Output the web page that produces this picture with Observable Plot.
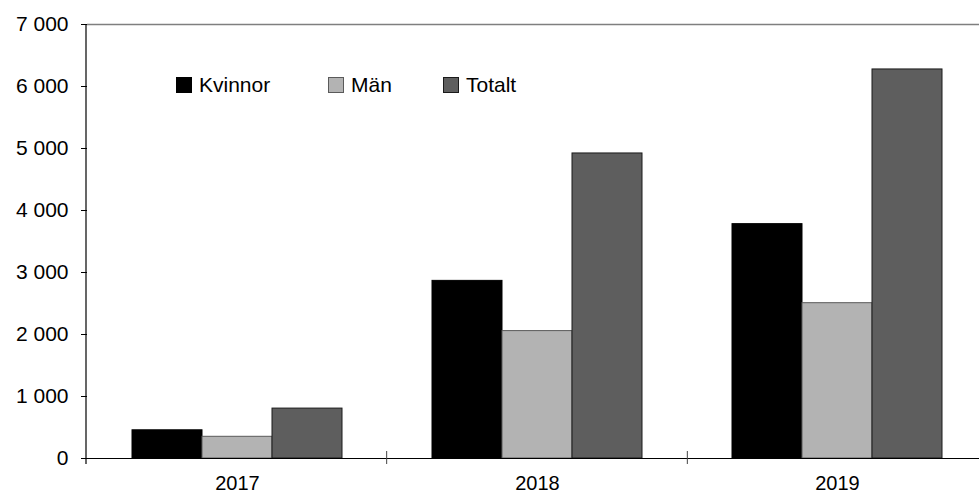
<!DOCTYPE html>
<html>
<head>
<meta charset="utf-8">
<script src="https://cdn.jsdelivr.net/npm/d3@7"></script>
<script src="https://cdn.jsdelivr.net/npm/@observablehq/plot@0.6"></script>
<style>
  html, body { margin: 0; padding: 0; background: #fff; overflow: hidden; }
  #wrap { position: relative; width: 979px; height: 492px; font-family: "Liberation Sans", Arial, sans-serif; }
  #legend { position: absolute; left: 0; top: 72px; width: 979px; height: 26px; font-size: 21px; color: #000; }
  #legend .item { position: absolute; top: 0; display: flex; align-items: center; height: 26px; line-height: 26px; }
  #legend .sw { width: 16px; height: 16px; box-sizing: border-box; margin-right: 7px; }
  svg [aria-label="fx-axis tick label"] text, svg [aria-label="fx-axis"] text { font-size: 20px; }
</style>
</head>
<body>
<div id="wrap"><div id="legend"></div></div>
<script>
const years = ["2017", "2018", "2019"];
const seriesNames = ["Kvinnor", "Män", "Totalt"];
const kvinnor = [455, 2865, 3780];
const man = [350, 2055, 2505];
const totalt = [805, 4920, 6275];
const yTicks = [0, 1000, 2000, 3000, 4000, 5000, 6000, 7000];
const fills = ["#000000", "#b3b3b3", "#5e5e5e"];
const strokes = ["#000000", "#5a5a5a", "#1a1a1a"];
const legendLeft = [176, 328, 443];

const values = [kvinnor, man, totalt];
const data = [];
years.forEach((yr, i) => seriesNames.forEach((s, j) => data.push({year: yr, series: s, value: values[j][i]})));

const fmt = d => d3.format(",")(d).replace(/,/g, " ");

const chart = Plot.plot({
  width: 979,
  height: 492,
  marginLeft: 86,
  marginRight: -9,
  marginTop: 24,
  marginBottom: 34,
  style: {fontFamily: "'Liberation Sans', Arial, sans-serif", fontSize: "21px", color: "#000", background: "white", overflow: "visible"},
  fx: {domain: years, padding: 0, tickSize: 0, tickPadding: 17, label: null},
  x: {domain: seriesNames, axis: null, paddingInner: 0, paddingOuter: 0.64},
  y: {domain: [0, 7000], ticks: yTicks, tickFormat: fmt, tickSize: 6, tickPadding: 13, label: null},
  color: {domain: seriesNames, range: fills},
  marks: [
    Plot.ruleY([7000], {stroke: "#7f7f7f", strokeWidth: 1.5}),
    Plot.barY(data, {fx: "year", x: "series", y: "value", fill: "series",
      stroke: d => strokes[seriesNames.indexOf(d.series)], strokeWidth: 1}),
    Plot.ruleY([0], {stroke: "#000", strokeWidth: 1.2})
  ]
});
document.getElementById("wrap").prepend(chart);

// x labels slightly smaller than y labels
d3.select(chart).selectAll("g[aria-label='fx-axis tick label'] text, g[aria-label='fx-axis'] text").style("font-size", "20px");

// axis line, boundary ticks built from the plot's own scales
const fxo = chart.scale("fx");
const yo = chart.scale("y");
const fxs = d3.scaleBand().domain(fxo.domain).range(fxo.range)
  .paddingInner(fxo.paddingInner ?? 0).paddingOuter(fxo.paddingOuter ?? 0).align(fxo.align ?? 0.5);
const ys = d3.scaleLinear().domain(yo.domain).range(yo.range);
const svg = d3.select(chart);
const x0 = fxs(years[0]);
svg.append("line").attr("x1", x0).attr("x2", x0).attr("y1", ys(7000)).attr("y2", ys(0) + 6)
  .attr("stroke", "#000").attr("stroke-width", 1.2);
const bounds = years.map(y => fxs(y)).concat([fxs(years[years.length - 1]) + fxs.bandwidth()]);
bounds.slice(1).forEach(b => {
  svg.append("line").attr("x1", b).attr("x2", b).attr("y1", ys(0) - 7).attr("y2", ys(0) + 6)
    .attr("stroke", "#444").attr("stroke-width", 1);
});

// legend
const legend = document.getElementById("legend");
seriesNames.forEach((s, j) => {
  const it = document.createElement("div");
  it.className = "item";
  it.style.left = legendLeft[j] + "px";
  const sw = document.createElement("div");
  sw.className = "sw";
  sw.style.background = fills[j];
  sw.style.border = "1px solid " + strokes[j];
  const t = document.createElement("span");
  t.textContent = s;
  it.appendChild(sw); it.appendChild(t);
  legend.appendChild(it);
});
</script>
</body>
</html>
